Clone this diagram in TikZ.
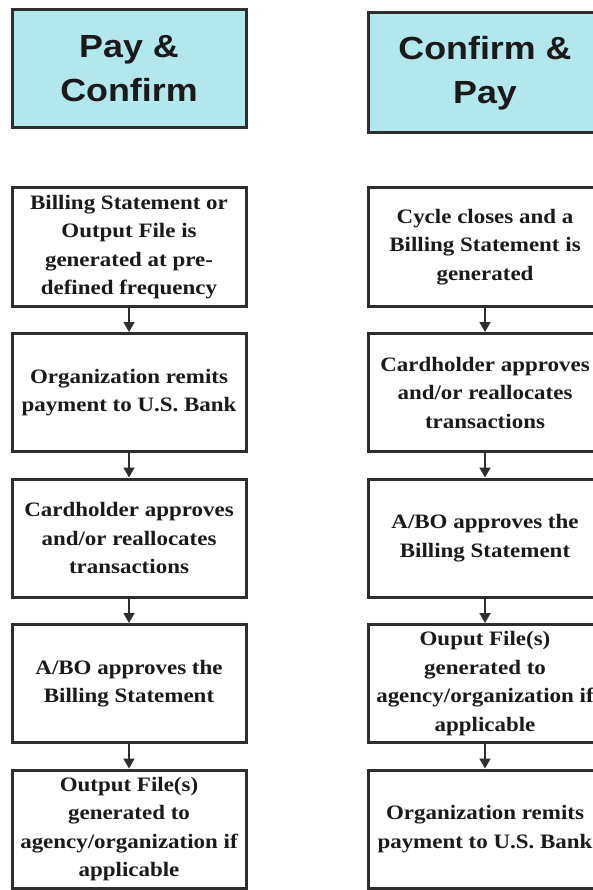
\documentclass[tikz,border=0pt]{standalone}
\usepackage{fontspec}
\setmainfont{Liberation Serif}[FakeStretch=1.12]
\newfontfamily\headfont{Liberation Sans}[FakeStretch=1.12]
\usepackage{tikz}
\usetikzlibrary{arrows.meta, positioning}
\definecolor{HeadCyan}{HTML}{B2E7EB}
\definecolor{BoxLine}{HTML}{2E2E2E}
\definecolor{InkText}{HTML}{1A1A1A}
\tikzset{
  % Box styles
  headbox/.style={rectangle, draw=BoxLine, line width=3pt, fill=HeadCyan, minimum width=234pt, minimum height=118pt, inner sep=0pt, text=InkText, font=\headfont\bfseries\fontsize{32}{44}\selectfont, align=center},
  stepbox/.style={rectangle, draw=BoxLine, line width=3pt, fill=white, minimum width=234pt, minimum height=118pt, inner sep=0pt, text=InkText, font=\bfseries\fontsize{20.5}{28.5}\selectfont, align=center},
  % Arrow styles
  arrow/.style={-{Triangle[width=11pt,length=10pt]}, line width=1.8pt, BoxLine}
}
\begin{document}
\begin{tikzpicture}[x=1pt, y=-1pt, node distance=24.5pt]
  \useasboundingbox (0,0) rectangle (593,890);
  \clip (0,0) rectangle (593,890);
  % Header boxes
  \node[headbox] (h1) at (129,69) {Pay \&\\Confirm};
  \node[headbox, minimum height=120pt] (h2) at (485,73) {Confirm \&\\Pay};

  % Pay & Confirm column
  \node[stepbox] (p1) at (129,247) {Billing Statement or\\Output File is\\generated at pre-\\defined frequency};
  \node[stepbox, below=of p1] (p2) {Organization remits\\payment to U.S. Bank};
  \node[stepbox, below=of p2] (p3) {Cardholder approves\\and/or reallocates\\transactions};
  \node[stepbox, below=of p3] (p4) {A/BO approves the\\Billing Statement};
  \node[stepbox, below=of p4] (p5) {Output File(s)\\generated to\\agency/organization if\\applicable};

  % Confirm & Pay column
  \node[stepbox] (c1) at (485,247) {Cycle closes and a\\Billing Statement is\\generated};
  \node[stepbox, below=of c1] (c2) {Cardholder approves\\and/or reallocates\\transactions};
  \node[stepbox, below=of c2] (c3) {A/BO approves the\\Billing Statement};
  \node[stepbox, below=of c3] (c4) {Ouput File(s)\\generated to\\agency/organization if\\applicable};
  \node[stepbox, below=of c4] (c5) {Organization remits\\payment to U.S. Bank};

  % Arrows
  \foreach \a/\b in {p1/p2, p2/p3, p3/p4, p4/p5, c1/c2, c2/c3, c3/c4, c4/c5}
    \draw[arrow] (\a.south) -- (\b.north);
\end{tikzpicture}
\end{document}
